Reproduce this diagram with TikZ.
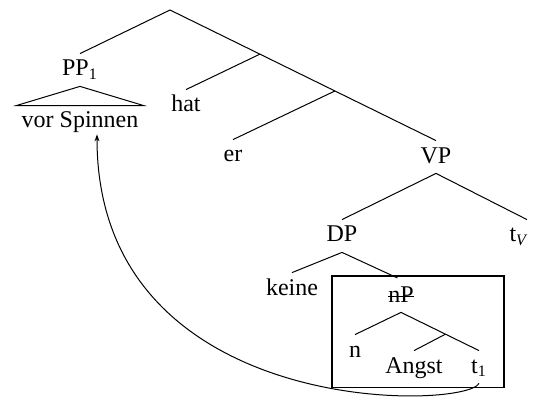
\documentclass[tikz,border=0pt]{standalone}
\usepackage{fontspec}
\setmainfont{Liberation Serif}
\usetikzlibrary{arrows.meta,calc,fit}
\tikzstyle{cat}=[anchor=base,text height=8.5pt,text depth=2.5pt,inner sep=2.5pt]
\tikzstyle{edge}=[line width=0.5pt]
\tikzstyle{frame}=[draw,line width=0.9pt,inner xsep=6pt,inner ysep=2pt]
\newcommand{\struck}[1]{\setbox0\hbox{#1}\rlap{\raisebox{0.45ex}{\rule{\wd0}{0.6pt}}}\box0}

\begin{document}
\begin{tikzpicture}[x=0.5pt,y=-0.5pt,font=\fontsize{12}{14}\selectfont]
	\useasboundingbox (0,0) rectangle (536,401);

	% nodes
	\coordinate (root) at (170,10);
	\node[cat] (pp) at (80,76) {PP\textsubscript{1}};
	\node[cat] (vs) at (80,128) {vor Spinnen};
	\node[cat] (hat) at (186,112) {hat};
	\node[cat] (er) at (233,162) {er};
	\node[cat] (vp) at (436,163) {VP};
	\node[cat] (dp) at (342,242) {DP};
	\node[cat] (tv) at (519,242) {t\textsubscript{\textit{V}}};
	\node[cat] (keine) at (292,295) {keine};
	\node[cat] (np) at (401,302) {\struck{nP}};
	\node[cat] (n) at (355,357) {n};
	\node[cat] (angst) at (414,373) {Angst};
	\node[cat] (t1) at (479,373) {t\textsubscript{1}};
	\node[frame,fit=(np)(n)(angst)(t1)] (box) {};

	% branch points
	\coordinate (b1) at ($(root)!.338!(vp.north)$);
	\coordinate (b2) at ($(root)!.62!(vp.north)$);
	\coordinate (b3) at ($(np.south)!.57!(t1.north)$);

	% edges
	\draw[edge] (pp.north) -- (root) -- (b1) -- (b2) -- (vp.north);
	\draw[edge] (b1) -- (hat.north);
	\draw[edge] (b2) -- (er.north);
	\draw[edge] (vs.north west) -- (pp.south) -- (vs.north east) -- cycle;
	\draw[edge] (dp.north) -- (vp.south) -- ([xshift=4pt]tv.north);
	\draw[edge] (keine.north) -- (dp.south);
	\draw[edge,shorten >=2pt] (dp.south) -- (np.north);
	\draw[edge] (n.north) -- (np.south) -- (b3) -- (t1.north);
	\draw[edge] (b3) -- (angst.north);

	% movement
	\draw[edge,-{Stealth[length=3.5pt,width=2.5pt]}] (t1.south)
		.. controls (465,410) and (97,420) .. ([xshift=8.5pt,yshift=2pt]vs.south);
\end{tikzpicture}
\end{document}
